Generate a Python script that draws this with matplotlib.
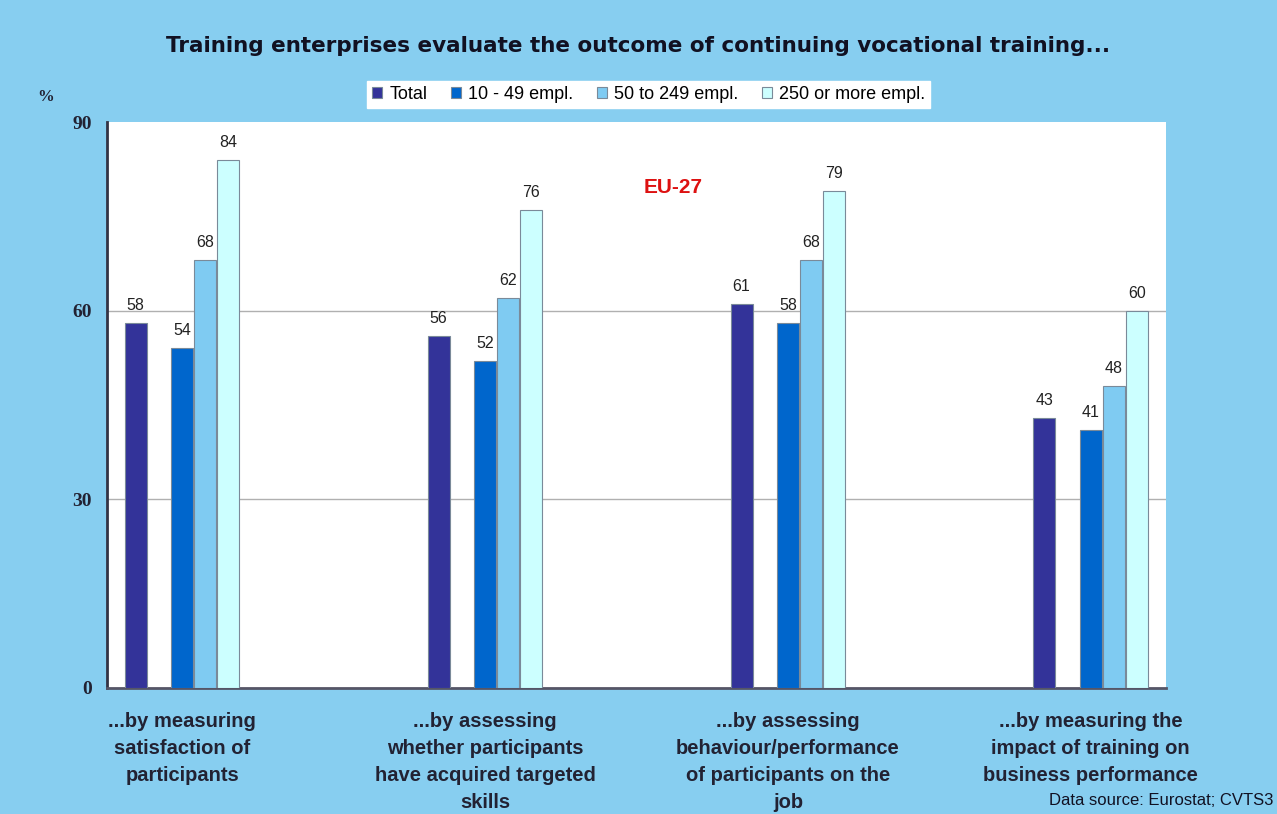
import numpy as np
import matplotlib.pyplot as plt

categories = [
    "...by measuring\nsatisfaction of\nparticipants",
    "...by assessing\nwhether participants\nhave acquired targeted\nskills",
    "...by assessing\nbehaviour/performance\nof participants on the\njob",
    "...by measuring the\nimpact of training on\nbusiness performance",
]
series_names = ["Total", "10 - 49 empl.", "50 to 249 empl.", "250 or more empl."]
total = [58, 56, 61, 43]
small = [54, 52, 58, 41]
medium = [68, 62, 68, 48]
large = [84, 76, 79, 60]

colors = ["#333399", "#0066CC", "#7FCBF2", "#CCFFFF"]
bg = "#87CEF0"

fig = plt.figure(figsize=(12.77, 8.14), dpi=100, facecolor=bg)
ax = fig.add_axes([0.0838, 0.1548, 0.8292, 0.6952])
ax.set_facecolor("white")

x = np.arange(len(categories))
w = 0.0765
# Total sits in slot -2, slot -1 is left empty
slots = [-2, 0, 1, 2]
values = [total, small, medium, large]
for s, vals, c, name in zip(slots, values, colors, series_names):
    bars = ax.bar(x + s * w, vals, w * 0.95, color=c, edgecolor="#7a8a99",
                  linewidth=0.8, label=name, zorder=3)
    for b, v in zip(bars, vals):
        ax.text(b.get_x() + b.get_width() / 2, v + 1.6, str(v), ha="center",
                va="bottom", fontsize=11.5, family="Liberation Sans", color="#222222")

ax.set_xlim(-0.248, 3.248)
ax.set_ylim(0, 90)
ax.set_yticks([0, 30, 60, 90])
ax.set_yticklabels(["0", "30", "60", "90"], family="Liberation Serif",
                   fontweight="bold", fontsize=14, color="#222233")
for yv in [30, 60]:
    ax.axhline(yv, color="#b0b0b0", linewidth=1, zorder=0)
ax.tick_params(axis="y", length=0, pad=11)
ax.set_xticks(x)
ax.set_xticklabels(categories, family="Liberation Sans", fontweight="bold",
                   fontsize=14.5, color="#222233", linespacing=1.55, va="top")
ax.tick_params(axis="x", length=0, pad=17)
for side in ["top", "right"]:
    ax.spines[side].set_visible(False)
ax.spines["left"].set_color("#333344")
ax.spines["left"].set_linewidth(2)
ax.spines["bottom"].set_color("#555566")
ax.spines["bottom"].set_linewidth(2)

fig.text(0.5, 0.944, "Training enterprises evaluate the outcome of continuing vocational training...",
         ha="center", va="center", fontsize=15.5, fontweight="bold", family="DejaVu Sans",
         color="#111122")
fig.text(0.036, 0.881, "%", ha="center", va="center", fontsize=12,
         family="Liberation Serif", fontweight="bold", color="#222233")
ax.text(0.535, 0.885, "EU-27", transform=ax.transAxes, ha="center", va="center",
        fontsize=15, fontweight="bold", color="#DD1111", family="Liberation Sans")
fig.text(0.997, 0.016, "Data source: Eurostat; CVTS3", ha="right", va="center",
         fontsize=12, family="Liberation Sans", color="#111122")

leg = fig.legend(loc="center", bbox_to_anchor=(0.508, 0.884), ncol=4, frameon=True,
                 fancybox=False, edgecolor="white", framealpha=1,
                 prop={"family": "Liberation Sans", "size": 13},
                 handlelength=0.55, handleheight=0.55, handletextpad=0.4,
                 columnspacing=1.3, borderpad=0.3)

fig.savefig("out.png", dpi=100, facecolor=bg)
